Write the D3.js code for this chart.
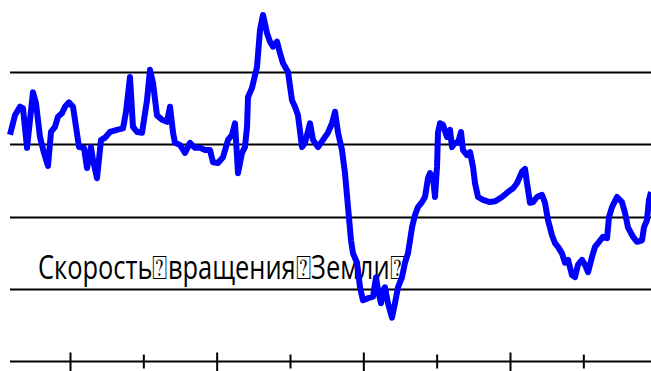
<!DOCTYPE html>
<html><head><meta charset="utf-8">
<script src="https://cdn.jsdelivr.net/npm/d3@7"></script>
<style>html,body{margin:0;padding:0;background:#fff;}svg{display:block;}</style>
</head><body>
<svg id="c" width="651" height="371"></svg>
<script>
// Data (x in arbitrary time units, ticks every 10; y in arbitrary speed units)
const xs = [1.82,2.50,3.18,3.59,4.14,4.55,4.95,5.36,5.91,6.45,7.00,7.41,7.95,8.36,8.91,9.32,9.86,10.41,10.82,11.23,
11.91,12.32,12.86,13.14,13.68,14.23,14.77,15.45,16.41,17.23,17.64,18.18,18.59,19.14,19.82,20.50,20.91,21.32,21.86,22.55,
23.23,23.64,24.05,24.32,25.00,25.68,26.36,27.05,27.73,28.41,29.09,29.50,30.18,30.86,31.55,32.09,32.50,32.91,33.45,33.86,
34.14,34.27,34.82,35.50,35.91,36.32,36.86,37.27,37.68,38.23,38.64,39.05,39.73,40.27,40.68,41.09,41.64,42.05,42.73,43.14,
43.82,44.50,45.18,45.73,46.14,46.55,47.09,47.50,47.91,48.32,48.59,49.14,49.55,49.95,50.64,51.32,51.73,52.00,52.41,52.68,
52.95,53.36,53.91,54.32,54.73,55.27,55.68,56.09,56.64,57.05,57.45,58.00,58.41,58.82,59.09,59.50,59.77,60.05,60.18,60.45,
60.86,61.41,61.82,62.09,62.50,62.91,63.32,63.59,64.14,64.55,64.95,65.23,65.64,66.32,67.27,67.95,68.91,69.73,70.41,70.95,
71.64,72.05,72.32,72.73,73.14,73.68,74.36,74.77,75.18,75.73,76.14,76.55,77.09,77.50,77.91,78.45,78.86,79.27,79.82,80.23,
80.64,81.18,81.59,82.14,82.68,83.23,83.50,83.91,84.59,85.27,85.68,86.09,86.77,87.32,88.00,88.27,88.68,88.95,89.23];
const speed = [3.13,3.40,3.52,3.50,2.95,3.34,3.72,3.57,3.10,2.88,2.70,3.17,3.24,3.38,3.43,3.52,3.58,3.52,3.24,2.96,
2.95,2.67,2.96,2.78,2.53,3.06,3.09,3.17,3.20,3.22,3.45,3.93,3.24,3.17,3.16,3.61,4.03,3.85,3.40,3.34,
3.31,3.52,3.16,3.02,2.99,2.88,3.02,2.95,2.95,2.92,2.92,2.75,2.74,2.82,3.06,3.13,3.29,2.60,2.88,2.96,
3.24,3.65,3.78,4.07,4.58,4.79,4.54,4.42,4.35,4.42,4.26,4.12,4.00,3.61,3.52,3.40,2.96,3.02,3.29,3.06,
2.96,3.06,3.16,3.29,3.45,3.16,2.92,2.60,2.13,1.67,1.49,1.36,1.02,0.84,0.87,0.89,1.16,0.98,0.80,0.98,
1.02,0.80,0.60,0.80,1.02,1.16,1.36,1.49,1.85,2.02,2.13,2.20,2.27,2.53,2.60,2.55,2.27,2.69,3.16,3.29,
3.27,3.10,3.20,2.96,3.02,3.02,3.17,2.92,2.85,2.89,2.69,2.46,2.27,2.23,2.20,2.21,2.27,2.34,2.39,2.46,
2.62,2.66,2.46,2.19,2.20,2.27,2.30,2.19,1.95,1.74,1.63,1.58,1.49,1.36,1.40,1.19,1.16,1.33,1.40,1.33,
1.23,1.44,1.58,1.65,1.72,1.70,1.99,2.13,2.27,2.20,2.05,1.85,1.72,1.65,1.67,1.85,1.95,2.23,2.34];
const gridValues = [1, 2, 3, 4];
const majorTicks = [10, 30, 50, 70];
const minorTicks = [20, 40, 60, 80];
const label = "Скорость⍰вращения⍰Земли⍰";

const svg = d3.select("#c");
const x = d3.scaleLinear().domain([10, 80]).range([70, 583.33]);
const y = d3.scaleLinear().domain([0, 4]).range([361, 72]);
const left = 10, right = 651;

// gridlines
svg.append("g").selectAll("line").data(gridValues).join("line")
  .attr("x1", left).attr("x2", right)
  .attr("y1", d => Math.round(y(d)) + 0.5).attr("y2", d => Math.round(y(d)) + 0.5)
  .attr("stroke", "#000").attr("stroke-width", 2);

// x axis
const axisMajor = d3.axisBottom(x).tickValues(majorTicks).tickSize(10).tickSizeOuter(0).tickFormat("");
const axisMinor = d3.axisBottom(x).tickValues(minorTicks).tickSize(7).tickSizeOuter(0).tickFormat("");
const gA = svg.append("g").attr("transform", `translate(0,${Math.round(y(0)) + 0.5})`);
gA.append("line").attr("x1", left).attr("x2", right).attr("stroke", "#000").attr("stroke-width", 2);
const gMaj = svg.append("g").attr("transform", `translate(0,${Math.round(y(0)) + 0.5})`).call(axisMajor);
gMaj.select(".domain").remove();
gMaj.selectAll(".tick line").attr("y1", -9).attr("y2", 10).attr("stroke", "#000").attr("stroke-width", 2);
const gMin = svg.append("g").attr("transform", `translate(0,${Math.round(y(0)) + 0.5})`).call(axisMinor);
gMin.select(".domain").remove();
gMin.selectAll(".tick line").attr("y1", -7).attr("y2", 7).attr("stroke", "#000").attr("stroke-width", 2);

// label
svg.append("text").attr("x", 38).attr("y", 279)
  .attr("font-family", "'Open Sans', 'DejaVu Sans'").attr("font-size", 33)
  .attr("textLength", 367).attr("lengthAdjust", "spacingAndGlyphs")
  .attr("fill", "#000").text(label);

// line
const pts = xs.map((d, i) => [d, speed[i]]);
svg.append("path").datum(pts)
  .attr("fill", "none").attr("stroke", "#0000ff").attr("stroke-width", 6)
  .attr("stroke-linejoin", "round").attr("stroke-linecap", "butt")
  .attr("d", d3.line().x(d => x(d[0])).y(d => y(d[1])));
</script>
</body></html>
